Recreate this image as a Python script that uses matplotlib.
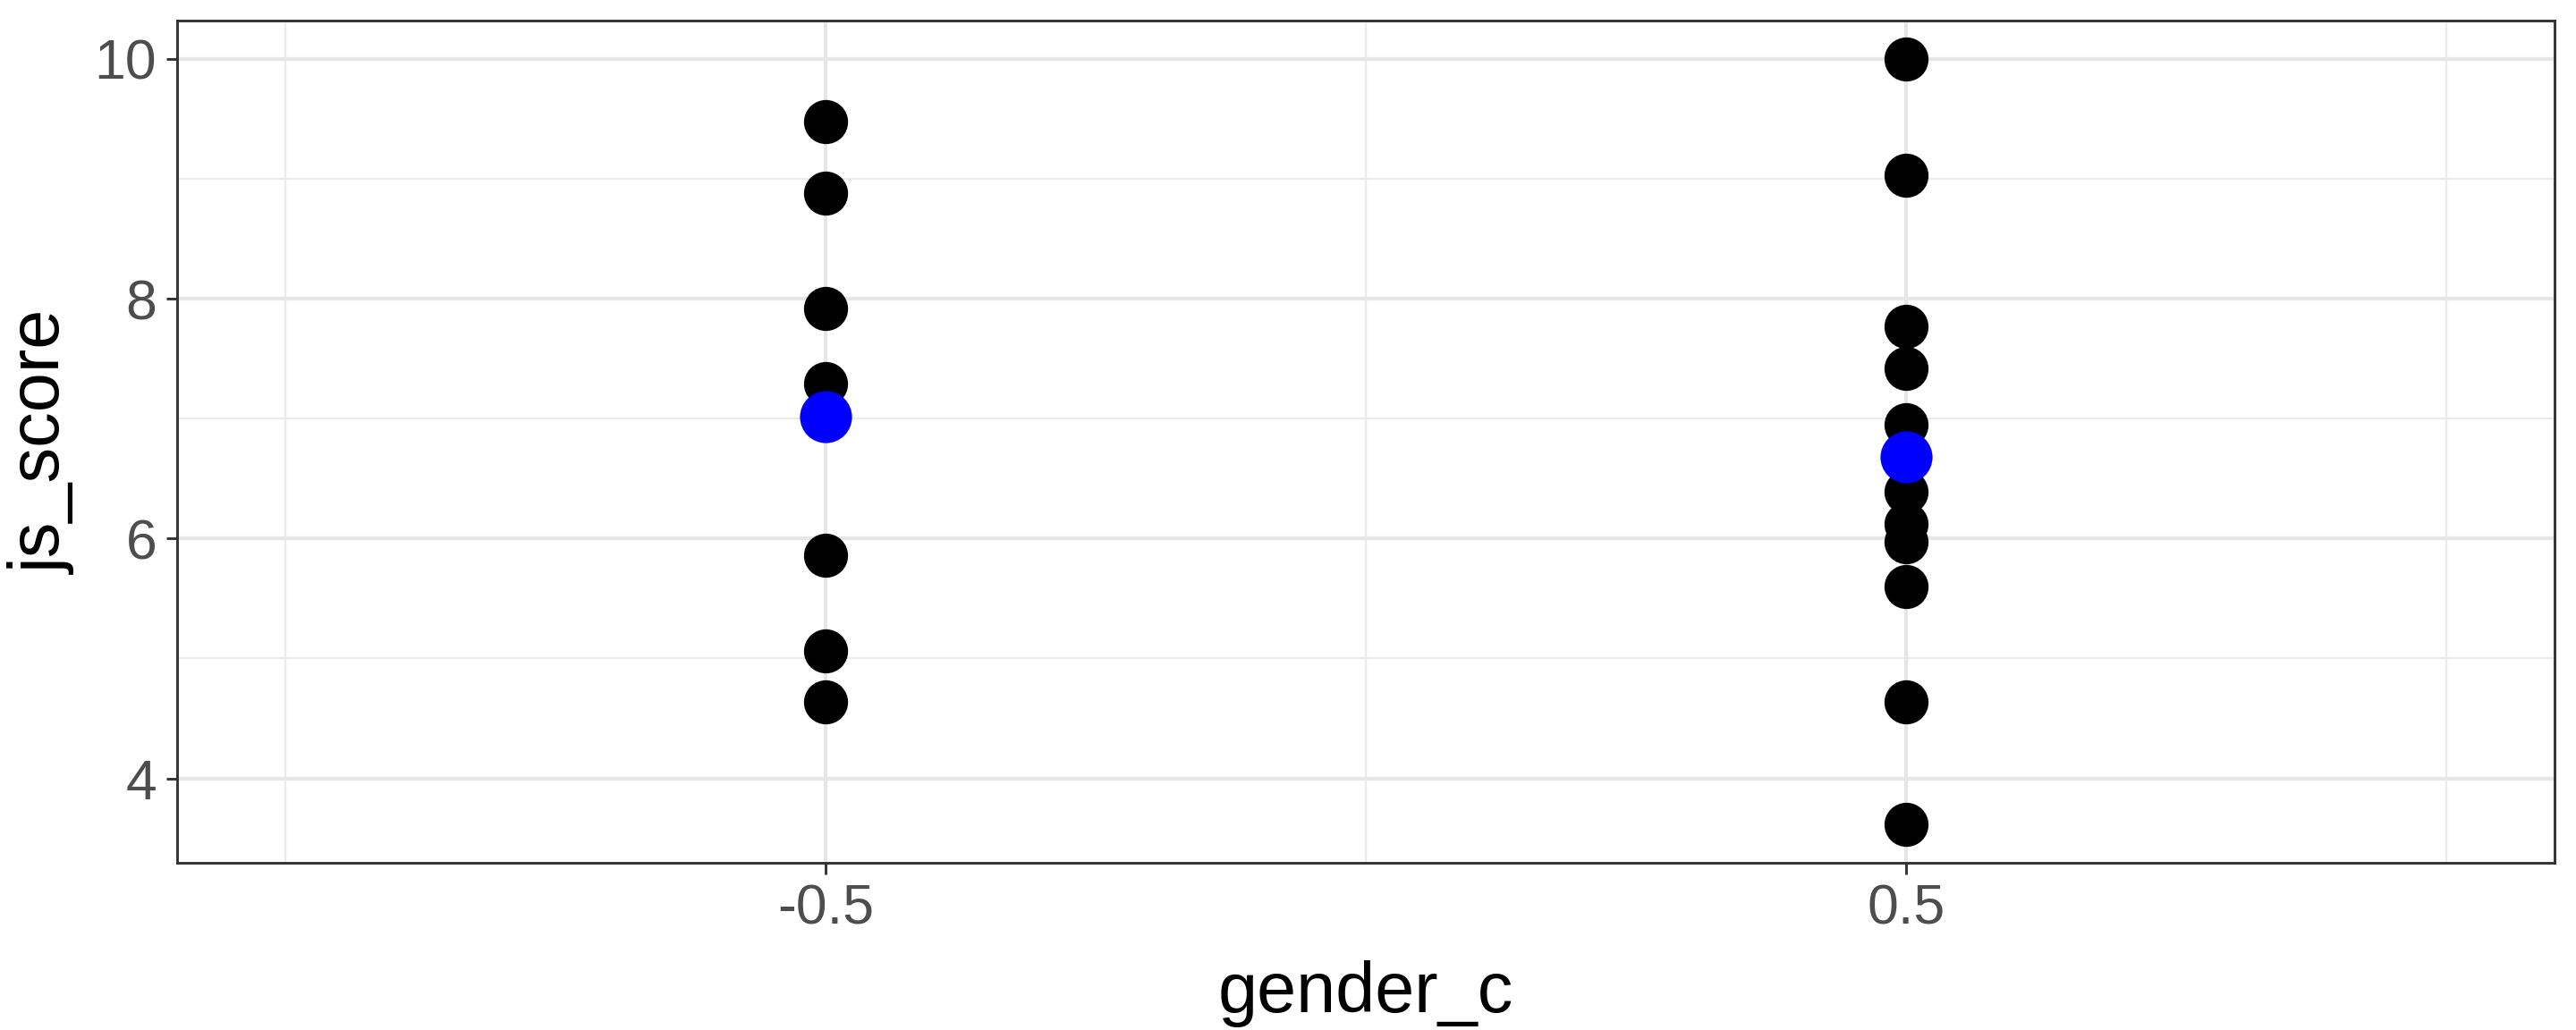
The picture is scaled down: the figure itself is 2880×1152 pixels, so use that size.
import matplotlib
matplotlib.use("Agg")
import matplotlib.pyplot as plt
import numpy as np

plt.rcParams['font.family'] = ['Liberation Sans', 'DejaVu Sans']

# Data
gender_c_values = [-0.5, 0.5]
js_female = [9.48, 8.88, 7.92, 7.29, 5.86, 5.06, 4.64]
js_male = [10.0, 9.03, 7.77, 7.42, 6.95, 6.39, 6.12, 5.97, 5.60, 4.635, 3.615]
group_means = [np.mean(js_female), np.mean(js_male)]
x_ticks = [-0.5, 0.5]
x_tick_labels = ["-0.5", "0.5"]
y_ticks = [4, 6, 8, 10]

fig = plt.figure(figsize=(9.6, 3.84), dpi=300)
ax = fig.add_axes([0.0688, 0.1623, 0.9917 - 0.0688, 0.980 - 0.1623])

# gridlines
for v in [-1, 0, 1]:
    ax.axvline(v, color='#EBEBEB', lw=0.55, zorder=0)
for v in [5, 7, 9]:
    ax.axhline(v, color='#EBEBEB', lw=0.55, zorder=0)
for v in x_ticks:
    ax.axvline(v, color='#E6E6E6', lw=1.0, zorder=0)
for v in y_ticks:
    ax.axhline(v, color='#E6E6E6', lw=1.0, zorder=0)

ax.scatter([gender_c_values[0]] * len(js_female), js_female, s=140, color='black', zorder=3, linewidths=0)
ax.scatter([gender_c_values[1]] * len(js_male), js_male, s=140, color='black', zorder=3, linewidths=0)
ax.scatter(gender_c_values, group_means, s=195, color='#0000FF', zorder=4, linewidths=0)

ax.set_xlim(-1.1, 1.1)
ymin, ymax = 3.615, 10.0
pad = (ymax - ymin) * 0.05
ax.set_ylim(ymin - pad, ymax + pad)

ax.set_xticks(x_ticks)
ax.set_xticklabels(x_tick_labels)
ax.set_yticks(y_ticks)

ax.tick_params(axis='both', which='major', labelsize=15, labelcolor='#4D4D4D',
               color='#333333', length=3, width=0.7, pad=2.5)

for sp in ax.spines.values():
    sp.set_color('#333333')
    sp.set_linewidth(0.7)

ax.set_xlabel('gender_c', fontsize=19, color='black', labelpad=6.5)
ax.set_ylabel('js_score', fontsize=19, color='black', labelpad=5)

fig.savefig('out.png', dpi=300, facecolor='white')
